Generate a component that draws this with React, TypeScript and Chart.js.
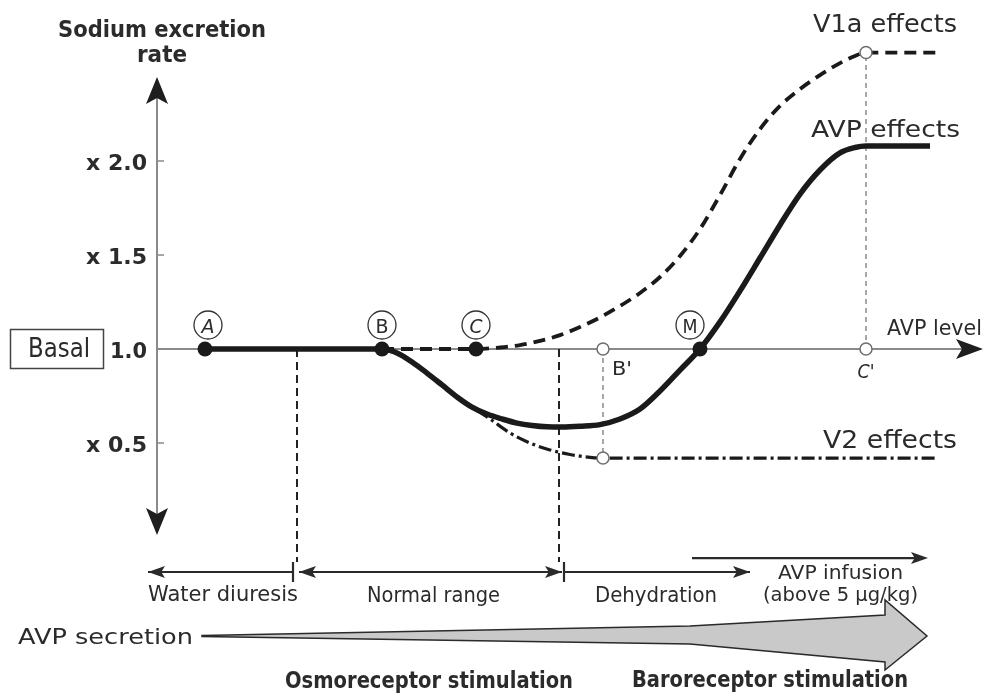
import React, { useEffect, useRef } from "react";
import { Chart, registerables } from "chart.js";

Chart.register(...registerables);

const FONT = '"DejaVu Sans", "Noto Sans", sans-serif';
const INK = "#2b2b2b";
const AXIS_GREY = "#8a8a8a";

// ---------------- data ----------------
// x: AVP level (arbitrary units), y: sodium excretion rate (x basal)
const avpEffectsX = [20.5, 38.2, 39.7, 41.2, 42.7, 44.2, 45.7, 47.2, 48.7, 50.2, 51.7, 53.2, 54.7, 56.2, 58.0, 60.0, 62.0, 64.0, 66.0, 68.0, 70.0, 72.0, 74.0, 76.0, 78.0, 80.0, 82.0, 84.0, 85.5, 86.6, 93.0];
const avpEffectsY = [1.0, 1.0, 0.979, 0.931, 0.872, 0.809, 0.745, 0.691, 0.654, 0.628, 0.606, 0.593, 0.586, 0.585, 0.589, 0.598, 0.628, 0.681, 0.777, 0.888, 1.0, 1.144, 1.309, 1.484, 1.66, 1.824, 1.952, 2.043, 2.072, 2.08, 2.08];

const v1aEffectsX = [38.2, 47.6, 50.0, 52.0, 54.0, 56.0, 58.0, 60.0, 62.0, 64.0, 66.0, 68.0, 70.0, 72.0, 74.0, 76.0, 78.0, 80.0, 82.0, 84.0, 85.5, 86.6, 93.8];
const v1aEffectsY = [1.0, 1.0, 1.008, 1.021, 1.043, 1.074, 1.117, 1.168, 1.229, 1.298, 1.383, 1.495, 1.638, 1.819, 2.011, 2.17, 2.293, 2.383, 2.457, 2.521, 2.559, 2.577, 2.577];

const v2EffectsX = [45.7, 47.2, 49.0, 51.0, 53.0, 55.0, 57.0, 59.0, 60.3, 93.5];
const v2EffectsY = [0.745, 0.691, 0.628, 0.553, 0.5, 0.463, 0.439, 0.424, 0.42, 0.42];

const keyPointLabels = ["A", "B", "C", "M"];
const keyPointX = [20.5, 38.2, 47.6, 70.0];
const keyPointY = [1.0, 1.0, 1.0, 1.0];

const openPointX = [60.3, 60.3, 86.6, 86.6];
const openPointY = [1.0, 0.42, 1.0, 2.577];
const openPointLabels = ["B'", "C'"];

const yTickValues = [2.0, 1.5, 1.0, 0.5];
const yTickLabels = ["x 2.0", "x 1.5", "1.0", "x 0.5"];

const yAxisX = 15.7;
const yAxisTop = 2.447;
const yAxisBottom = 0.011;
const xAxisEnd = 98.3;
const baseline = 1.0;

const boundaryX = [29.7, 55.9];
const boundaryBottom = -0.133;

const rangeNames = ["Water diuresis", "Normal range", "Dehydration"];
const rangeStart = [29.3, 29.9, 56.4];
const rangeEnd = [14.8, 56.2, 75.0];
const rangeArrowAtStart = [false, true, false];
const rangeTickX = [29.3, 56.4];
const rangeRowY = -0.186;

const infusionStart = 69.2;
const infusionEnd = 92.8;
const infusionY = -0.112;

const secretionX = [20.2, 69.0, 88.5];
const secretionUp = [0.5, 10, 21];
const secretionDown = [0.5, 8, 26];
const secretionTip = 92.7;

// ---------------- helpers ----------------
// draws text at a given font size, squeezed horizontally to a target width
function label(ctx: CanvasRenderingContext2D, text: string, x: number, y: number, w: number, size: number, weight = "normal", align: CanvasTextAlign = "center", style = "normal") {
  ctx.save();
  ctx.font = `${style} ${weight} ${size}px ${FONT}`;
  const m = ctx.measureText(text).width;
  const sx = w / m;
  ctx.translate(x, y);
  ctx.scale(sx, 1);
  ctx.textAlign = align;
  ctx.textBaseline = "alphabetic";
  ctx.fillText(text, 0, 0);
  ctx.restore();
}

function arrowHead(ctx: CanvasRenderingContext2D, tx: number, ty: number, angle: number, len: number, half: number) {
  ctx.save();
  ctx.translate(tx, ty);
  ctx.rotate(angle);
  ctx.beginPath();
  ctx.moveTo(0, 0);
  ctx.lineTo(-len, -half);
  ctx.lineTo(-len * 0.78, 0);
  ctx.lineTo(-len, half);
  ctx.closePath();
  ctx.fill();
  ctx.restore();
}

function line(ctx: CanvasRenderingContext2D, x1: number, y1: number, x2: number, y2: number) {
  ctx.beginPath();
  ctx.moveTo(x1, y1);
  ctx.lineTo(x2, y2);
  ctx.stroke();
}

const diagramPlugin = {
  id: "diagram",
  beforeDatasetsDraw(chart: any) {
    const ctx: CanvasRenderingContext2D = chart.ctx;
    const X = (v: number) => chart.scales.x.getPixelForValue(v);
    const Y = (v: number) => chart.scales.y.getPixelForValue(v);
    ctx.save();
    // horizontal axis (AVP level)
    ctx.strokeStyle = AXIS_GREY;
    ctx.lineWidth = 2;
    line(ctx, X(yAxisX), Y(baseline), X(xAxisEnd) - 20, Y(baseline));
    ctx.fillStyle = "#1e1e1e";
    arrowHead(ctx, X(xAxisEnd), Y(baseline), 0, 27, 10);
    // vertical axis
    ctx.strokeStyle = AXIS_GREY;
    line(ctx, X(yAxisX), Y(yAxisTop) + 20, X(yAxisX), Y(yAxisBottom) - 20);
    arrowHead(ctx, X(yAxisX), Y(yAxisTop), -Math.PI / 2, 27, 11);
    arrowHead(ctx, X(yAxisX), Y(yAxisBottom), Math.PI / 2, 27, 11);
    // ticks
    ctx.lineWidth = 1.5;
    yTickValues.forEach((v) => {
      if (v !== baseline) line(ctx, X(yAxisX), Y(v), X(yAxisX) + 7, Y(v));
    });
    ctx.restore();
  },
  afterDatasetsDraw(chart: any) {
    const ctx: CanvasRenderingContext2D = chart.ctx;
    const X = (v: number) => chart.scales.x.getPixelForValue(v);
    const Y = (v: number) => chart.scales.y.getPixelForValue(v);
    ctx.save();
    ctx.fillStyle = INK;

    // axis titles
    label(ctx, "Sodium excretion", 162, 37, 208, 23, "bold");
    label(ctx, "rate", 162, 62, 50, 23, "bold");
    label(ctx, "AVP level", 887, 335, 95, 20.5, "normal", "left");

    // tick labels
    yTickValues.forEach((v, i) => {
      const w = yTickLabels[i].length > 3 ? 61 : 37;
      label(ctx, yTickLabels[i], X(yAxisX) - 10, Y(v) + 8.5, w, 21.5, "bold", "right");
    });

    // Basal box
    ctx.strokeStyle = "#444";
    ctx.lineWidth = 1.5;
    ctx.strokeRect(10.5, 329.5, 93, 39);
    label(ctx, "Basal", 59, 357, 62, 27);

    // circled letters above key points
    keyPointLabels.forEach((lab, i) => {
      const cx = X(keyPointX[i]) + (lab === "M" ? -10 : lab === "A" ? 3 : 0);
      const cy = Y(keyPointY[i]) - 24;
      ctx.beginPath();
      ctx.arc(cx, cy, 14, 0, Math.PI * 2);
      ctx.strokeStyle = "#333";
      ctx.lineWidth = 1.3;
      ctx.stroke();
      ctx.fillStyle = INK;
      label(ctx, lab, cx, cy + 7.5, lab === "M" ? 15 : 13, 20, "normal", "center", lab === "A" || lab === "C" ? "italic" : "normal");
    });

    // primed labels
    ctx.fillStyle = INK;
    label(ctx, openPointLabels[0], X(openPointX[0]) + 9, 375, 20, 20, "normal", "left");
    label(ctx, openPointLabels[1], X(openPointX[2]), 378, 17, 20, "normal", "center", "italic");

    // curve labels
    label(ctx, "V1a effects", 885, 31.5, 144, 25);
    label(ctx, "AVP effects", 885.5, 136.5, 149, 23.5);
    label(ctx, "V2 effects", 890, 448, 134, 25);

    // range row
    ctx.strokeStyle = "#2a2a2a";
    ctx.fillStyle = "#2a2a2a";
    ctx.lineWidth = 2.2;
    rangeNames.forEach((_, i) => {
      const a = X(rangeStart[i]);
      const b = X(rangeEnd[i]);
      const y = Y(rangeRowY);
      line(ctx, a, y, b, y);
      const dir = b > a ? 0 : Math.PI;
      arrowHead(ctx, b, y, dir, 17, 6);
      if (rangeArrowAtStart[i]) arrowHead(ctx, a, y, dir + Math.PI, 17, 6);
    });
    rangeTickX.forEach((t) => line(ctx, X(t), Y(rangeRowY) - 10, X(t), Y(rangeRowY) + 10));
    line(ctx, X(infusionStart), Y(infusionY), X(infusionEnd) - 6, Y(infusionY));
    arrowHead(ctx, X(infusionEnd), Y(infusionY), 0, 17, 6);

    ctx.fillStyle = INK;
    label(ctx, rangeNames[0], 223, 600.5, 150, 21);
    label(ctx, rangeNames[1], 433.5, 601.5, 133, 21);
    label(ctx, rangeNames[2], 656, 601.5, 122, 21);
    label(ctx, "AVP infusion", 840.5, 579, 125, 20);
    label(ctx, "(above 5 \u03bcg/kg)", 840.5, 601, 155, 20);

    // AVP secretion wedge arrow
    const cy = 636;
    ctx.beginPath();
    ctx.moveTo(X(secretionX[0]), cy - secretionUp[0]);
    for (let i = 1; i < secretionX.length; i++) ctx.lineTo(X(secretionX[i]), cy - secretionUp[i]);
    ctx.lineTo(X(secretionX[2]), cy - 36);
    ctx.lineTo(X(secretionTip), cy);
    ctx.lineTo(X(secretionX[2]), cy + 34);
    for (let i = secretionX.length - 1; i >= 0; i--) ctx.lineTo(X(secretionX[i]), cy + secretionDown[i]);
    ctx.closePath();
    ctx.fillStyle = "#c9c9c9";
    ctx.fill();
    ctx.strokeStyle = "#2a2a2a";
    ctx.lineWidth = 1.5;
    ctx.lineJoin = "miter";
    ctx.stroke();

    ctx.fillStyle = INK;
    label(ctx, "AVP secretion", 18, 644, 175, 21.5, "normal", "left");
    label(ctx, "Osmoreceptor stimulation", 429, 688, 288, 22.5, "bold");
    label(ctx, "Baroreceptor stimulation", 770, 686.5, 276, 22.5, "bold");

    ctx.restore();
  },
};

const toXY = (xs: number[], ys: number[]) => xs.map((x, i) => ({ x, y: ys[i] }));

export default function App() {
  const ref = useRef<HTMLCanvasElement | null>(null);

  useEffect(() => {
    if (!ref.current) return;
    const datasets: any[] = [
      {
        label: "key points",
        data: toXY(keyPointX, keyPointY),
        showLine: false,
        pointRadius: 7.5,
        pointBackgroundColor: "#1a1a1a",
        pointBorderWidth: 0,
        order: 0,
      },
      {
        label: "reference points",
        data: toXY(openPointX, openPointY),
        showLine: false,
        pointRadius: 6,
        pointBackgroundColor: "#ffffff",
        pointBorderColor: "#6e6e6e",
        pointBorderWidth: 1.5,
        order: 1,
      },
      {
        label: "AVP effects",
        data: toXY(avpEffectsX, avpEffectsY),
        borderColor: "#1a1a1a",
        borderWidth: 5.5,
        pointRadius: 0,
        cubicInterpolationMode: "monotone",
        order: 3,
      },
      {
        label: "V1a effects",
        data: toXY(v1aEffectsX, v1aEffectsY),
        borderColor: "#1a1a1a",
        borderWidth: 3.8,
        borderDash: [12, 7],
        pointRadius: 0,
        cubicInterpolationMode: "monotone",
        order: 4,
      },
      {
        label: "V2 effects",
        data: toXY(v2EffectsX, v2EffectsY),
        borderColor: "#1a1a1a",
        borderWidth: 3.2,
        borderDash: [13, 4, 3, 4],
        pointRadius: 0,
        cubicInterpolationMode: "monotone",
        order: 5,
      },
      {
        label: "B' projection",
        data: toXY([openPointX[0], openPointX[1]], [openPointY[0], openPointY[1]]),
        borderColor: "#8a8a8a",
        borderWidth: 1.5,
        borderDash: [5, 4],
        pointRadius: 0,
        order: 6,
      },
      {
        label: "C' projection",
        data: toXY([openPointX[2], openPointX[3]], [openPointY[2], openPointY[3]]),
        borderColor: "#8a8a8a",
        borderWidth: 1.5,
        borderDash: [5, 4],
        pointRadius: 0,
        order: 6,
      },
      ...boundaryX.map((bx) => ({
        label: "boundary",
        data: toXY([bx, bx], [baseline, boundaryBottom]),
        borderColor: "#222",
        borderWidth: 2,
        borderDash: [8, 5],
        pointRadius: 0,
        order: 7,
      })),
    ];

    const chart = new Chart(ref.current, {
      type: "line",
      data: { datasets },
      options: {
        responsive: false,
        maintainAspectRatio: false,
        animation: false,
        devicePixelRatio: 1,
        layout: { padding: 0, autoPadding: false },
        plugins: { legend: { display: false }, tooltip: { enabled: false } },
        events: [],
        scales: {
          x: { type: "linear", min: 0, max: 98.6, display: false },
          y: { type: "linear", min: -0.8457, max: 2.8564, display: false },
        },
      } as any,
      plugins: [diagramPlugin as any],
    });
    return () => chart.destroy();
  }, []);

  return (
    <div style={{ position: "fixed", left: 0, top: 0, width: 986, height: 696, background: "#fff" }}>
      <canvas ref={ref} width={986} height={696} style={{ display: "block" }} />
    </div>
  );
}
